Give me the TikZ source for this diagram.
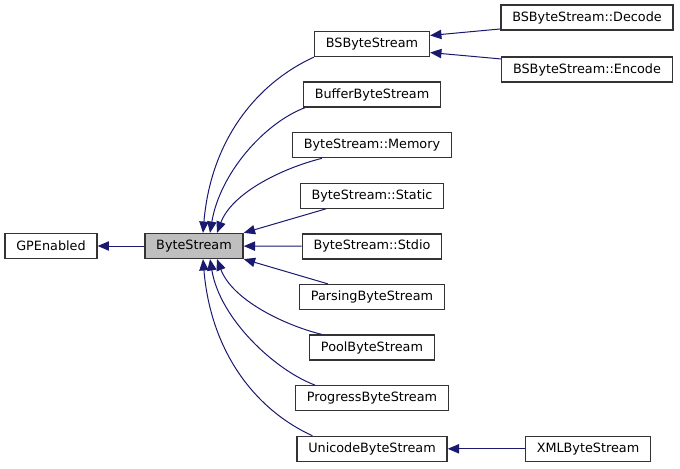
\documentclass[tikz,border=0pt]{standalone}
\usepackage{fontspec}
\setmainfont{DejaVu Sans}
\usetikzlibrary{arrows.meta}
\definecolor{EdgeBlue}{RGB}{25,25,112}
\definecolor{CurGray}{RGB}{191,191,191}

\begin{document}
\begin{tikzpicture}[x=.75pt,y=-.75pt,
    cls/.style={draw=black!80,line width=.95pt,font=\fontsize{9.6}{11}\selectfont,
      minimum height=18.75pt,inner xsep=8.5pt,inner ysep=0pt},
    inh/.style={EdgeBlue,line width=.75pt,<-},
    >={Triangle[length=8.5pt,width=7pt]}]
  \useasboundingbox (0,0) rectangle (680,468);
  % base classes
  \node[cls] (gp) at (51,246) {GPEnabled};
  \node[cls,fill=CurGray] (bytestream) at (194,246) {ByteStream};
  % derived classes
  \foreach \n/\t/\y in {bsbs/BSByteStream/44, buffer/BufferByteStream/94.6,
      memory/ByteStream::Memory/145.2, static/ByteStream::Static/195.8,
      stdio/ByteStream::Stdio/246.4, parsing/ParsingByteStream/297,
      pool/PoolByteStream/347.6, progress/ProgressByteStream/398.2,
      unicode/UnicodeByteStream/448.8}
    \node[cls] (\n) at (372,\y) {\t};
  \node[cls] (decode) at (587,17.5) {BSByteStream::Decode};
  \node[cls] (encode) at (587,69.5) {BSByteStream::Encode};
  \node[cls] (xml) at (588,448.8) {XMLByteStream};
  % inheritance edges
  \draw[inh] (gp) -- (bytestream);
  \draw[inh] ([xshift=6.75pt]bytestream.north) .. controls +(8,-95) and +(-55,25) .. (bsbs.south west);
  \draw[inh] ([xshift=12pt]bytestream.north) .. controls +(10,-60) and +(-40,15) .. ([xshift=1.5pt]buffer.south west);
  \draw[inh] ([xshift=17.25pt]bytestream.north) .. controls +(15,-40) and +(-40,10) .. ([xshift=22.5pt]memory.south west);
  \draw[inh] (bytestream.north east) -- ([xshift=19.5pt]static.south west);
  \draw[inh] (bytestream) -- (stdio);
  \draw[inh] (bytestream.south east) -- ([xshift=21.75pt]parsing.north west);
  \draw[inh] ([xshift=17.25pt]bytestream.south) .. controls +(15,40) and +(-40,-10) .. ([xshift=9.75pt]pool.north west);
  \draw[inh] ([xshift=12pt]bytestream.south) .. controls +(10,60) and +(-40,-15) .. ([xshift=15pt]progress.north west);
  \draw[inh] ([xshift=6.75pt]bytestream.south) .. controls +(8,95) and +(-55,-25) .. ([xshift=12pt]unicode.north west);
  \draw[inh] ([yshift=6.4pt]bsbs.east) -- ([yshift=-8.6pt]decode.west);
  \draw[inh] ([yshift=-6.4pt]bsbs.east) -- ([yshift=7.9pt]encode.west);
  \draw[inh] (unicode) -- (xml);
\end{tikzpicture}
\end{document}
